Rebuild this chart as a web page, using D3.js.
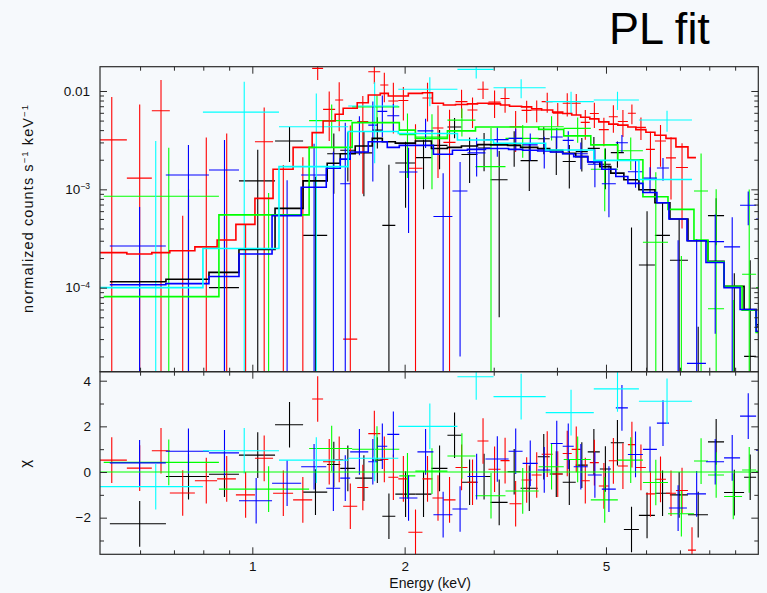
<!DOCTYPE html>
<html>
<head>
<meta charset="utf-8">
<script src="https://cdn.jsdelivr.net/npm/d3@7"></script>
<style>
  html, body { margin: 0; padding: 0; background: #f6f9fc; }
  svg { display: block; font-family: "Liberation Sans", Arial, Helvetica, sans-serif; }
</style>
</head>
<body>
<svg id="chart" width="767" height="593"></svg>
<script>
// ---- Spectrum data: five data groups, each with bin edges (keV), folded model,
// ---- measured rate, 1-sigma error and the fit residual (chi).

const blackEdges = [0.523, 0.675, 0.821, 0.941, 1.109, 1.260, 1.406, 1.492, 1.597, 1.726, 1.807, 1.917, 2.100, 2.259, 2.430, 2.590, 2.786, 2.956, 3.195, 3.390, 3.664, 3.870, 4.106, 4.357, 4.602, 4.862, 5.111, 5.424, 5.808, 6.247, 6.689, 7.261, 7.953, 8.557, 9.374, 9.901, 10.30];
const blackModel = [1.15e-4, 1.22e-4, 1.43e-4, 2.44e-4, 6.4e-4, 1.22e-3, 1.84e-3, 2.3e-3, 2.76e-3, 3.3e-3, 3.05e-3, 2.95e-3, 3.1e-3, 2.6e-3, 2.67e-3, 2.76e-3, 2.85e-3, 2.83e-3, 2.8e-3, 2.67e-3, 2.6e-3, 2.5e-3, 2.32e-3, 2.15e-3, 1.91e-3, 1.7e-3, 1.46e-3, 1.25e-3, 9.9e-4, 7.3e-4, 5.0e-4, 3.0e-4, 1.85e-4, 1.03e-4, 6.0e-5, 4.2e-5];
const blackData = [-6.1e-4, -1.0e-4, 1.0e-4, 1.22e-3, 3.1e-3, 3.4e-4, 2.3e-3, 2.5e-3, 2.35e-3, 4.0e-3, 4.3e-4, 1.85e-3, 2.1e-3, 2.8e-3, 4.3e-3, 2.26e-3, 2.63e-3, 1.25e-3, 2.8e-3, 1.96e-3, 3.27e-3, 2.4e-3, 1.92e-3, 2.42e-3, 2.61e-3, 1.8e-3, 2.36e-3, -1.4e-4, 1.7e-4, 3.4e-4, 1.9e-4, -2.6e-4, 5.4e-4, -2.3e-4, 2.0e-5, 4.0e-5];
const blackErr = [3.2e-4, 1.1e-3, 4.3e-4, 1.3e-3, 1.2e-3, 1.0e-3, 1.4e-3, 1.3e-3, 1.5e-3, 1.4e-3, 1.35e-3, 1.2e-3, 1.1e-3, 1.2e-3, 1.0e-3, 1.1e-3, 1.1e-3, 1.2e-3, 1.1e-3, 1.0e-3, 1.0e-3, 1.0e-3, 9e-4, 9e-4, 8e-4, 8e-4, 7e-4, 5.5e-4, 4.3e-4, 4.0e-4, 3.1e-4, 3.0e-4, 2.7e-4, 3.7e-4, 1.7e-4, 2.5e-4];
const blackChi = [-2.27, -0.2, -0.1, 0.74, 2.07, -0.88, 0.33, 0.16, -0.27, 0.52, -1.94, -0.97, -0.97, 0.16, 1.61, -0.45, -0.2, -1.33, 0.01, -0.71, 0.67, -0.09, -0.45, 0.3, 0.88, 0.13, 1.28, -2.52, -1.9, -0.93, -1.0, -1.87, 1.32, -0.9, -0.23, 0.0];

const redEdges = [0.49, 0.565, 0.633, 0.687, 0.770, 0.852, 0.928, 1.012, 1.099, 1.204, 1.313, 1.380, 1.458, 1.512, 1.612, 1.695, 1.790, 1.857, 1.943, 2.034, 2.169, 2.270, 2.386, 2.521, 2.662, 2.786, 2.929, 3.094, 3.224, 3.405, 3.565, 3.731, 3.923, 4.106, 4.278, 4.457, 4.645, 4.840, 5.065, 5.277, 5.524, 5.728, 5.996, 6.247, 6.569, 6.874, 7.261, 7.530];
const redModel = [2.27e-4, 2.2e-4, 2.27e-4, 2.37e-4, 2.6e-4, 3.05e-4, 4.4e-4, 8.1e-4, 1.6e-3, 2.67e-3, 3.77e-3, 4.96e-3, 5.8e-3, 6.67e-3, 7.6e-3, 9.1e-3, 9.45e-3, 8.9e-3, 8.9e-3, 9.45e-3, 9.6e-3, 7.5e-3, 7.2e-3, 7.3e-3, 7.4e-3, 7.5e-3, 7.4e-3, 7.2e-3, 7.0e-3, 6.9e-3, 6.6e-3, 6.4e-3, 6.1e-3, 5.9e-3, 5.7e-3, 5.4e-3, 5.2e-3, 4.85e-3, 4.6e-3, 4.5e-3, 4.3e-3, 4.05e-3, 3.8e-3, 3.55e-3, 3.3e-3, 2.7e-3, 2.1e-3];
const redData = [3.18e-3, 1.3e-3, 6.3e-3, -3.26e-3, -1.64e-3, -1.15e-3, -1.56e-3, 3.05e-3, -7.3e-4, -3.8e-4, 1.7e-2, 6.5e-3, 8.1e-3, 3e-5, 4.9e-3, 1.57e-2, 1.15e-2, 7.9e-3, 8.0e-3, 1.64e-3, 8.5e-3, 4.2e-3, 3.0e-3, 7.8e-3, 6.4e-3, 1.04e-2, 7.7e-3, 8.4e-3, 4.33e-3, 6.35e-3, 6.4e-3, 7.8e-3, 5.95e-3, 7.5e-3, 7.5e-3, 4.8e-3, 5.9e-3, 4.05e-3, 5.47e-3, 4.9e-3, 5.93e-3, 4.27e-3, 2.55e-3, 3.1e-3, 2.09e-3, 1.67e-3, -1.3e-3];
const redErr = [5.5e-3, 6.0e-3, 6.6e-3, 3.8e-3, 5.0e-3, 4.85e-3, 2.0e-3, 3.75e-3, 2.5e-3, 2.5e-3, 4.1e-3, 3.4e-3, 4.2e-3, 4.43e-3, 4.0e-3, 3.9e-3, 3.8e-3, 4.2e-3, 3.0e-3, 2.96e-3, 3.6e-3, 2.9e-3, 3.45e-3, 2.5e-3, 2.2e-3, 2.1e-3, 2.4e-3, 2.4e-3, 1.93e-3, 1.6e-3, 1.6e-3, 1.8e-3, 1.6e-3, 2.0e-3, 1.8e-3, 1.6e-3, 1.7e-3, 1.3e-3, 1.7e-3, 1.5e-3, 1.35e-3, 1.1e-3, 1.3e-3, 1.4e-3, 1.3e-3, 1.27e-3, 1.0e-3];
const redChi = [0.52, 0.17, 0.93, -0.92, -0.38, -0.3, -1.0, 0.6, -0.93, -1.22, 3.2, 0.45, 0.55, -1.5, -0.68, 1.68, 0.55, -0.23, -0.3, -2.64, -0.3, -1.14, -1.22, 0.2, -0.45, 1.36, 0.12, 0.5, -1.39, -0.35, -0.13, 0.78, -0.09, 0.81, 0.99, -0.38, 0.41, -0.61, 0.49, 0.26, 1.2, 0.2, -0.96, -0.32, -0.93, -0.81, -3.42];

const greenEdges = [0.5085, 0.859, 1.295, 1.575, 1.952, 2.100, 2.430, 2.761, 3.165, 3.681, 4.125, 4.666, 5.277, 5.915, 6.630, 7.462, 7.953, 8.557, 9.289, 9.901, 10.6];
const greenModel = [8.1e-5, 5.5e-4, 2.67e-3, 4.77e-3, 4.0e-3, 3.3e-3, 3.93e-3, 4.3e-3, 4.3e-3, 4.07e-3, 3.5e-3, 2.83e-3, 2.0e-3, 8.4e-4, 6.25e-4, 3.05e-4, 1.83e-4, 1.03e-4, 5.9e-5, 3.5e-5];
const greenData = [8.5e-4, -5.6e-4, 5.0e-3, 6.9e-3, 3.6e-3, 3.4e-3, 5.05e-3, 1.7e-3, 3.3e-3, 4.33e-3, 4.17e-3, 1.6e-3, 2.47e-3, 2.9e-4, -2.9e-4, 9.6e-4, 6.1e-5, -3.25e-4, 1.37e-4, 1.0e-4];
const greenErr = [1.8e-3, 1.48e-3, 2.3e-3, 2.1e-3, 2.3e-3, 2.4e-3, 1.6e-3, 2.5e-3, 1.2e-3, 1.2e-3, 1.2e-3, 1.0e-3, 9e-4, 1.2e-3, 5e-4, 1.36e-3, 9.4e-4, 4e-4, 8.6e-4, 1.9e-3];
const greenChi = [0.42, -0.75, 1.03, 1.0, -0.17, 0.04, 0.7, -1.04, -0.83, 0.23, 0.55, -1.22, 0.52, -0.46, -1.83, 0.48, -0.13, -1.07, 0.09, 0.03];

const blueEdges = [0.5228, 0.6746, 0.8209, 0.9412, 1.094, 1.249, 1.400, 1.492, 1.561, 1.695, 1.766, 1.848, 1.952, 2.120, 2.280, 2.486, 2.662, 2.889, 3.210, 3.421, 3.664, 3.887, 4.106, 4.317, 4.602, 4.906, 5.229, 5.524, 5.915, 6.304, 6.658, 7.227, 7.881, 8.557, 9.204, 9.901, 10.5];
const blueModel = [1.07e-4, 1.1e-4, 1.3e-4, 2.2e-4, 5.4e-4, 1.05e-3, 1.64e-3, 2.03e-3, 2.4e-3, 3.05e-3, 3.05e-3, 2.67e-3, 2.8e-3, 2.8e-3, 2.27e-3, 2.5e-3, 2.55e-3, 2.6e-3, 2.55e-3, 2.5e-3, 2.45e-3, 2.4e-3, 2.3e-3, 2.15e-3, 1.9e-3, 1.6e-3, 1.35e-3, 1.15e-3, 9.3e-4, 7.3e-4, 5.0e-4, 3.0e-4, 1.8e-4, 1.0e-4, 6.0e-5, 3.6e-5];
const blueData = [2.65e-4, 1.4e-3, 1.57e-3, -1.04e-3, -1.3e-4, 1.4e-3, -2.4e-4, 1.14e-3, 3.87e-3, 4.5e-3, 6.2e-3, 5.6e-3, 1.5e-3, 3.93e-3, 5.3e-4, 9.6e-4, 2.35e-3, 3.2e-3, 3.3e-3, 2.83e-3, 2.53e-3, 3.4e-3, 3.15e-3, 2.3e-3, 1.8e-3, 1.14e-3, 2.98e-3, 1.51e-3, 1.3e-3, 1.65e-3, -3.3e-5, 1.7e-5, 2.94e-4, 2.6e-4, 6.9e-4, 5.0e-4];
const blueErr = [3.95e-4, 1.42e-3, 1.6e-3, 1.0e-3, 1.37e-3, 1.5e-3, 2.65e-3, 3.6e-3, 1.65e-3, 3.3e-3, 2.8e-3, 1.78e-3, 1.14e-3, 1.3e-3, 9.3e-4, 9.4e-4, 1.0e-3, 1.05e-3, 8.2e-4, 8.7e-4, 9.0e-4, 8.0e-4, 7.5e-4, 7.0e-4, 7.5e-4, 6.2e-4, 5.8e-4, 4.7e-4, 3.8e-4, 4.3e-4, 3.36e-4, 2.95e-4, 2.6e-4, 2.6e-4, 2.6e-4, 4.8e-4];
const blueChi = [0.4, 0.91, 0.84, -1.26, -0.49, 0.23, -0.71, -0.27, 0.88, 0.45, 1.13, 1.65, -1.14, 0.88, -1.87, -1.62, -0.2, 0.57, 0.91, 0.38, 0.09, 1.25, 1.13, 0.23, -0.13, -0.75, 2.81, 0.77, 0.99, 2.14, -1.58, -0.96, 0.45, 0.62, 2.45, 0.96];

const cyanEdges = [0.49, 0.7987, 1.129, 1.547, 1.943, 2.543, 2.997, 3.800, 4.730, 5.808, 7.394];
const cyanModel = [1.0e-4, 2.5e-4, 1.7e-3, 3.87e-3, 3.7e-3, 3.17e-3, 2.94e-3, 2.51e-3, 1.97e-3, 1.26e-3];
const cyanData = [-5.1e-3, 6.1e-3, 4.33e-3, 7.04e-3, 1.04e-2, 1.66e-2, 1.08e-2, 7.8e-3, 8.1e-3, 5.07e-3];
const cyanErr = [8.2e-3, 6.3e-3, 5.1e-3, 5.2e-3, 3.4e-3, 3.2e-3, 2.35e-3, 2.0e-3, 1.7e-3, 1.23e-3];
const cyanChi = [-0.64, 0.93, 0.52, 0.6, 2.0, 4.17, 3.3, 2.6, 3.64, 3.1];

// ---- Axis ticks and labels
const xTicksMajor = [1, 2, 5];
const xTicksMinor = [0.6, 0.7, 0.8, 0.9, 3, 4, 6, 7, 8, 9];
const yTopMajor = [1e-4, 1e-3, 1e-2];
const yTopMinor = [2e-5, 3e-5, 4e-5, 5e-5, 6e-5, 7e-5, 8e-5, 9e-5,
                   2e-4, 3e-4, 4e-4, 5e-4, 6e-4, 7e-4, 8e-4, 9e-4,
                   2e-3, 3e-3, 4e-3, 5e-3, 6e-3, 7e-3, 8e-3, 9e-3];
const yTopLabelBase = ["10", "10", "0.01"];
const yTopLabelExp = ["\u22124", "\u22123", ""];
const chiMajor = [-2, 0, 2, 4];
const chiMinor = [-3, -1, 1, 3];

const series = [
  { color: "#000000", edges: blackEdges, model: blackModel, data: blackData, err: blackErr, chi: blackChi },
  { color: "#ff0000", edges: redEdges,   model: redModel,   data: redData,   err: redErr,   chi: redChi },
  { color: "#00ff00", edges: greenEdges, model: greenModel, data: greenData, err: greenErr, chi: greenChi },
  { color: "#0000ff", edges: blueEdges,  model: blueModel,  data: blueData,  err: blueErr,  chi: blueChi },
  { color: "#00ffff", edges: cyanEdges,  model: cyanModel,  data: cyanData,  err: cyanErr,  chi: cyanChi }
];

// ---- Layout
const L = 100, R = 758.3, T = 66.7, M = 371.7, B = 554.3;
const svg = d3.select("#chart");
svg.append("rect").attr("width", 767).attr("height", 593).attr("fill", "#f6f9fc");

const x = d3.scaleLog().domain([0.5, 10]).range([L, R]);
const yTop = d3.scaleLog().domain([1.398e-5, 0.01766]).range([M, T]);
const yChi = d3.scaleLinear().domain([-3.605, 4.394]).range([B, M]);

const defs = svg.append("defs");
defs.append("clipPath").attr("id", "clipTop")
  .append("rect").attr("x", L).attr("y", T).attr("width", R - L).attr("height", M - T);
defs.append("clipPath").attr("id", "clipBot")
  .append("rect").attr("x", L).attr("y", M).attr("width", R - L).attr("height", B - M);

const gTop = svg.append("g").attr("clip-path", "url(#clipTop)");
const gBot = svg.append("g").attr("clip-path", "url(#clipBot)");

// Data crosses (top) and residual crosses (bottom)
series.forEach(s => {
  const gt = gTop.append("g").attr("stroke", s.color).attr("stroke-width", 1.1);
  const gb = gBot.append("g").attr("stroke", s.color).attr("stroke-width", 1.1);
  s.data.forEach((d, i) => {
    const lo = s.edges[i], hi = s.edges[i + 1], c = (lo + hi) / 2, e = s.err[i];
    const up = d + e, dn = d - e;
    if (up > 0) {
      gt.append("line")
        .attr("x1", x(c)).attr("x2", x(c))
        .attr("y1", yTop(up))
        .attr("y2", dn > 0 ? yTop(dn) : M + 5);
    }
    if (d > 0) {
      gt.append("line")
        .attr("x1", x(lo)).attr("x2", x(hi))
        .attr("y1", yTop(d)).attr("y2", yTop(d));
    }
    const r = s.chi[i];
    gb.append("line")
      .attr("x1", x(c)).attr("x2", x(c))
      .attr("y1", yChi(r + 1)).attr("y2", yChi(r - 1));
    gb.append("line")
      .attr("x1", x(lo)).attr("x2", x(hi))
      .attr("y1", yChi(r)).attr("y2", yChi(r));
  });
});

// Folded model as step histograms
const stepLine = d3.line().x(p => x(p[0])).y(p => yTop(p[1])).curve(d3.curveStepAfter);
series.forEach(s => {
  const pts = s.model.map((m, i) => [s.edges[i], m]);
  pts.push([s.edges[s.edges.length - 1], s.model[s.model.length - 1]]);
  gTop.append("path").attr("d", stepLine(pts))
    .attr("fill", "none").attr("stroke", s.color).attr("stroke-width", 1.6);
});

// Zero line of the residual panel
gBot.append("line").attr("x1", L).attr("x2", R)
  .attr("y1", yChi(0)).attr("y2", yChi(0))
  .attr("stroke", "#00ff00").attr("stroke-width", 1.1);

// ---- Axes
const axisColor = "#2b2b2b";
function addAxis(axis, tx, ty, styleText) {
  const g = svg.append("g").attr("transform", `translate(${tx},${ty})`).call(axis);
  g.select(".domain").remove();
  g.attr("font-family", null).attr("font-size", null);
  g.selectAll(".tick line").attr("stroke", axisColor).attr("stroke-width", 1);
  g.selectAll(".tick text").attr("fill", "#111").attr("font-size", 13.5);
  if (styleText) styleText(g);
  return g;
}
const noLabel = () => "";

// x ticks on every horizontal edge
addAxis(d3.axisBottom(x).tickValues(xTicksMajor).tickSize(-7).tickPadding(7).tickFormat(d3.format("d")), 0, B);
addAxis(d3.axisBottom(x).tickValues(xTicksMinor).tickSize(-4).tickFormat(noLabel), 0, B);
addAxis(d3.axisTop(x).tickValues(xTicksMajor).tickSize(-7).tickFormat(noLabel), 0, M);
addAxis(d3.axisTop(x).tickValues(xTicksMinor).tickSize(-4).tickFormat(noLabel), 0, M);
addAxis(d3.axisBottom(x).tickValues(xTicksMajor).tickSize(-7).tickFormat(noLabel), 0, M);
addAxis(d3.axisBottom(x).tickValues(xTicksMinor).tickSize(-4).tickFormat(noLabel), 0, M);
addAxis(d3.axisTop(x).tickValues(xTicksMajor).tickSize(-7).tickFormat(noLabel), 0, T);
addAxis(d3.axisTop(x).tickValues(xTicksMinor).tickSize(-4).tickFormat(noLabel), 0, T);

// top panel y ticks with power-of-ten labels
addAxis(d3.axisLeft(yTop).tickValues(yTopMajor).tickSize(-7).tickPadding(10).tickFormat(noLabel), L, 0, g => {
  g.selectAll(".tick text").each(function (d) {
    const k = yTopMajor.indexOf(d);
    const t = d3.select(this);
    t.append("tspan").text(yTopLabelBase[k]);
    if (yTopLabelExp[k]) {
      t.append("tspan").attr("dy", -4.8).attr("font-size", 8.6).text(yTopLabelExp[k]);
    }
  });
});
addAxis(d3.axisLeft(yTop).tickValues(yTopMinor).tickSize(-4).tickFormat(noLabel), L, 0);
addAxis(d3.axisRight(yTop).tickValues(yTopMajor).tickSize(-7).tickFormat(noLabel), R, 0);
addAxis(d3.axisRight(yTop).tickValues(yTopMinor).tickSize(-4).tickFormat(noLabel), R, 0);

// residual panel y ticks
addAxis(d3.axisLeft(yChi).tickValues(chiMajor).tickSize(-7).tickPadding(9).tickFormat(d3.format("d")), L, 0);
addAxis(d3.axisLeft(yChi).tickValues(chiMinor).tickSize(-4).tickFormat(noLabel), L, 0);
addAxis(d3.axisRight(yChi).tickValues(chiMajor).tickSize(-7).tickFormat(noLabel), R, 0);
addAxis(d3.axisRight(yChi).tickValues(chiMinor).tickSize(-4).tickFormat(noLabel), R, 0);

// panel frames
svg.append("rect").attr("x", L).attr("y", T).attr("width", R - L).attr("height", M - T)
  .attr("fill", "none").attr("stroke", axisColor).attr("stroke-width", 1.2);
svg.append("rect").attr("x", L).attr("y", M).attr("width", R - L).attr("height", B - M)
  .attr("fill", "none").attr("stroke", axisColor).attr("stroke-width", 1.2);

// ---- Titles and axis labels
svg.append("text").attr("x", 609).attr("y", 43.5)
  .attr("font-size", 45).attr("fill", "#000").text("PL fit");

svg.append("text").attr("x", (L + R) / 2 + 1).attr("y", 587.5)
  .attr("text-anchor", "middle").attr("font-size", 14).attr("fill", "#111")
  .text("Energy (keV)");

const yl = svg.append("text")
  .attr("transform", "translate(32.5,209) rotate(-90)")
  .attr("text-anchor", "middle").attr("font-size", 14.5).attr("fill", "#111")
  .attr("textLength", 208).attr("lengthAdjust", "spacing");
yl.append("tspan").text("normalized counts s");
yl.append("tspan").attr("dy", -5).attr("font-size", 9.5).text("\u22121");
yl.append("tspan").attr("dy", 5).text(" keV");
yl.append("tspan").attr("dy", -5).attr("font-size", 9.5).text("\u22121");

svg.append("text")
  .attr("transform", "translate(30.4,463.7) rotate(-90)")
  .attr("text-anchor", "middle").attr("font-size", 15).attr("fill", "#111")
  .text("\u03c7");
</script>
</body>
</html>
